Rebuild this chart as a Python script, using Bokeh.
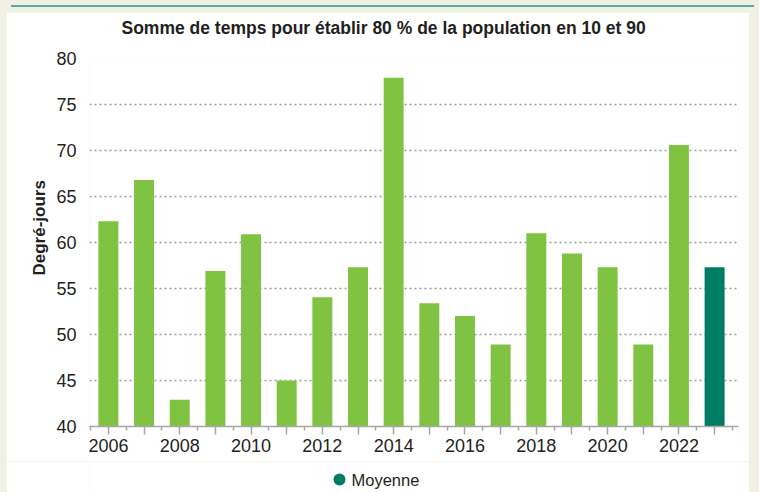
from bokeh.plotting import figure
from bokeh.models import (ColumnDataSource, FixedTicker, Div, Range1d, Title, LinearAxis)
from bokeh.layouts import column
from bokeh.embed import file_html
from bokeh.resources import INLINE
from bokeh.core.properties import value

# ---- data ----
years = [2006, 2007, 2008, 2009, 2010, 2011, 2012, 2013, 2014,
         2015, 2016, 2017, 2018, 2019, 2020, 2021, 2022]
values = [62.3, 66.8, 42.9, 56.9, 60.9, 45.0, 54.05, 57.3, 77.9,
          53.4, 52.0, 48.9, 61.0, 58.8, 57.3, 48.9, 70.6]
mean_label = "Moyenne"
mean_position = [2023]
mean_value = [57.3]
y_ticks = [40, 45, 50, 55, 60, 65, 70, 75, 80]
x_label_years = [2006, 2008, 2010, 2012, 2014, 2016, 2018, 2020, 2022]
title_text = "Somme de temps pour établir 80 % de la population en 10 et 90"
y_label = "Degré-jours"

GREEN = "#80c242"
TEAL = "#007c63"
FONT = "Liberation Sans"
TXT = "#231f20"
W = 743
BORDER_L, BORDER_R = 83, 11
FRAME_W = W - BORDER_L - BORDER_R
X_START, X_END = 2005.47, 2023.67

p = figure(width=W, height=449,
           x_range=Range1d(X_START, X_END), y_range=Range1d(40, 80),
           output_backend="svg", toolbar_location=None,
           min_border_left=BORDER_L, min_border_right=BORDER_R,
           min_border_top=46, min_border_bottom=35,
           background_fill_color="white", border_fill_color="white",
           outline_line_color=None)
p.title.text = ""

# main (bottom) x axis
xa = p.below[0]
all_pos = years + mean_position
xa.ticker = FixedTicker(ticks=all_pos,
                        minor_ticks=[v - 0.5 for v in all_pos] + [all_pos[-1] + 0.5])
xa.major_label_overrides = {v: (str(v) if v in x_label_years else "") for v in all_pos}
xa.axis_line_color = "#a6a6a6"
xa.axis_line_width = 1.5
xa.major_tick_line_color = "#a6a6a6"
xa.major_tick_line_width = 1.5
xa.minor_tick_line_color = "#a6a6a6"
xa.minor_tick_line_width = 1.5
xa.major_tick_out = 8
xa.major_tick_in = 0
xa.minor_tick_out = 4
xa.minor_tick_in = 0
xa.major_label_standoff = 4
xa.major_label_text_font = FONT
xa.major_label_text_font_size = "18px"
xa.major_label_text_color = TXT

# spacer above the frame: an invisible axis with one white, unlabeled tick
spacer_tick = X_END - 0.05
spacer = LinearAxis(ticker=FixedTicker(ticks=[spacer_tick], minor_ticks=[]),
                    major_label_overrides={spacer_tick: ""},
                    axis_line_color=None,
                    major_tick_out=21, major_tick_in=0, minor_tick_out=0,
                    minor_tick_in=0, major_label_standoff=0,
                    major_tick_line_color="white", minor_tick_line_color=None)
p.add_layout(spacer, "above")
p.add_layout(Title(text=title_text, align="left", offset=32, standoff=0,
                   text_font=FONT, text_font_size="17.5px",
                   text_font_style="bold", text_color=TXT), "above")

# bars
src = ColumnDataSource(dict(x=years, top=values))
p.vbar(x="x", top="top", bottom=y_ticks[0], width=0.56, source=src,
       fill_color=GREEN, line_color=None)
msrc = ColumnDataSource(dict(x=mean_position, top=mean_value))
p.vbar(x="x", top="top", bottom=y_ticks[0], width=0.56, source=msrc,
       fill_color=TEAL, line_color=None)

# y axis
ya = p.left[0]
ya.ticker = FixedTicker(ticks=y_ticks)
ya.axis_line_color = None
ya.major_tick_line_color = None
ya.major_tick_out = 0
ya.major_tick_in = 0
ya.minor_tick_line_color = None
ya.major_label_standoff = 13
ya.major_label_text_font = FONT
ya.major_label_text_font_size = "18px"
ya.major_label_text_color = TXT

# y axis title
p.add_layout(Title(text=y_label, align="left", offset=151, standoff=10,
                   text_font=FONT, text_font_size="17px",
                   text_font_style="bold", text_color=TXT), "left")

# grid
p.xgrid.visible = False
p.ygrid.ticker = FixedTicker(ticks=y_ticks)
p.ygrid.grid_line_color = "#9a9a9a"
p.ygrid.grid_line_dash = "2 3"
p.ygrid.grid_line_width = 1.5

# legend strip: its own small figure whose frame is aligned with the main frame
# (x measured in pixels from the frame's left edge)
leg = figure(width=W, height=36, x_range=Range1d(0, FRAME_W), y_range=Range1d(-18, 18),
             output_backend="svg", toolbar_location=None,
             x_axis_location=None, y_axis_location=None,
             min_border_left=BORDER_L, min_border_right=BORDER_R,
             min_border_top=0, min_border_bottom=0,
             outline_line_color=None,
             background_fill_color="white", border_fill_color="white")
leg.grid.visible = False
leg_src = ColumnDataSource(dict(x=[250], y=[0]))
leg.scatter(x="x", y="y", source=leg_src, marker="circle", size=12,
            fill_color=TEAL, line_color=None)
leg.text(x=[262], y=[0], text=[mean_label], text_baseline="middle",
         text_align="left", text_font=value(FONT), text_font_size="16.5px",
         text_color=TXT)

bar = Div(width=W, height=2, styles={"background-color": "#5aab9b"})
layout = column(bar, p, leg, styles={"background-color": "#f0f1e4", "padding-left": "6px"})

open("out.html", "w").write(file_html(layout, INLINE))
